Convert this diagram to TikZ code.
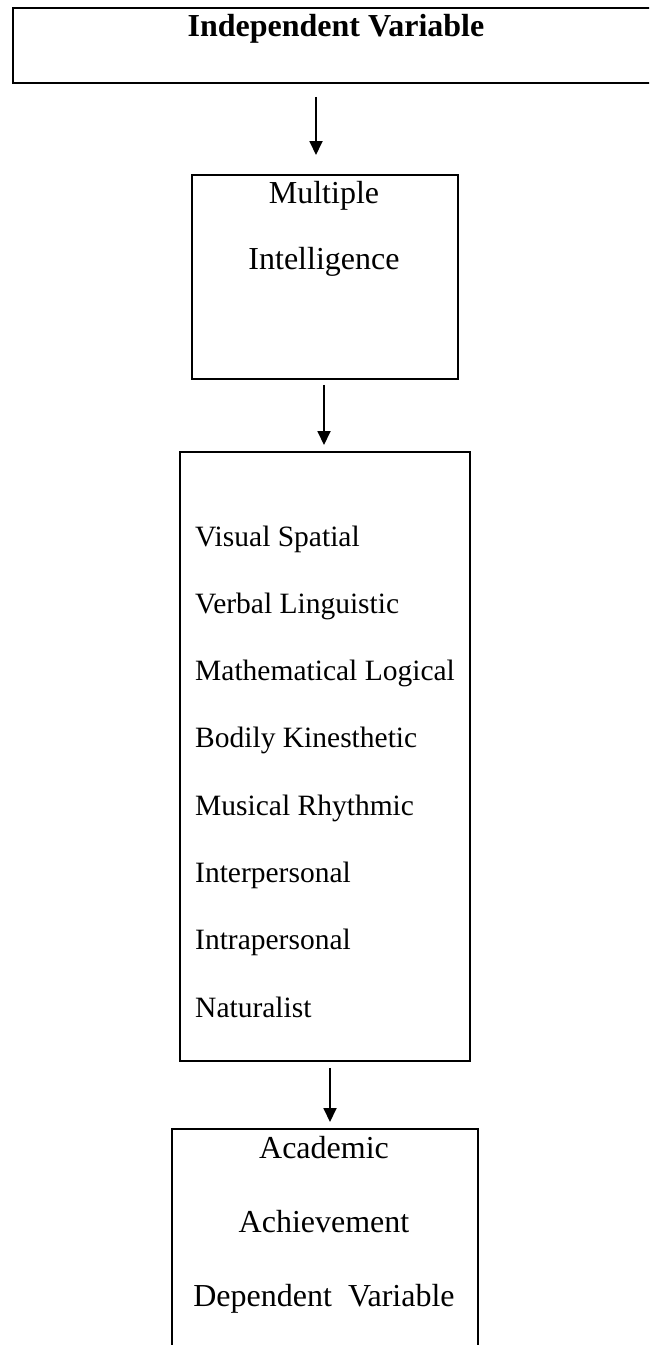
\documentclass[tikz,border=0pt]{standalone}
\usepackage{fontspec}
\setmainfont{Liberation Serif}
\usetikzlibrary{arrows.meta}
\begin{document}
\begin{tikzpicture}[x=1pt,y=-1pt,
  frame/.style={draw, line width=1.9pt, inner sep=0pt, anchor=north west},
  lbl/.style={font=\fontsize{32}{38}\selectfont, inner sep=0pt, anchor=base},
  item/.style={font=\fontsize{29.5}{35}\selectfont, inner sep=0pt, anchor=base west},
  arr/.style={line width=1.8pt, -{Triangle[width=13pt,length=14pt]}}]
\useasboundingbox (0,0) rectangle (649,1345);
\clip (0,0) rectangle (649,1345);

% heading box (runs past the right edge)
\node[frame, minimum width=648pt, minimum height=75pt] (iv) at (12,7) {};
\node[lbl, font=\fontsize{32}{38}\selectfont\bfseries] (ivt) at (336,36) {Independent Variable};

% multiple intelligence box
\node[frame, minimum width=266pt, minimum height=204pt] (mi) at (191,174) {};
\node[lbl] (mi1) at (324,203) {Multiple};
\node[lbl] (mi2) at (324,269) {Intelligence};

% list of intelligences
\node[frame, minimum width=290pt, minimum height=609pt] (types) at (179,451) {};
\node[item] (t1) at (195,546.0) {Visual Spatial};
\node[item] (t2) at (195,613.3) {Verbal Linguistic};
\node[item] (t3) at (195,680.6) {Mathematical Logical};
\node[item] (t4) at (195,747.9) {Bodily Kinesthetic};
\node[item] (t5) at (195,815.2) {Musical Rhythmic};
\node[item] (t6) at (195,882.5) {Interpersonal};
\node[item] (t7) at (195,949.8) {Intrapersonal};
\node[item] (t8) at (195,1017.1) {Naturalist};

% outcome box (open at the bottom edge)
\node[frame, minimum width=306pt, minimum height=260pt] (aa) at (171,1128) {};
\node[lbl] (aa1) at (324,1158) {Academic};
\node[lbl] (aa2) at (324,1232) {Achievement};
\node[lbl] (aa3) at (324,1306) {Dependent\ \ Variable};

% arrow columns
\coordinate (c1) at (316,0);
\coordinate (c2) at (324,0);
\coordinate (c3) at (330,0);
\draw[arr, shorten <=13pt, shorten >=19pt] (iv.south -| c1) -- (mi.north -| c1);
\draw[arr, shorten <=5pt, shorten >=6pt] (mi.south -| c2) -- (types.north -| c2);
\draw[arr, shorten <=6pt, shorten >=6pt] (types.south -| c3) -- (aa.north -| c3);
\end{tikzpicture}
\end{document}
